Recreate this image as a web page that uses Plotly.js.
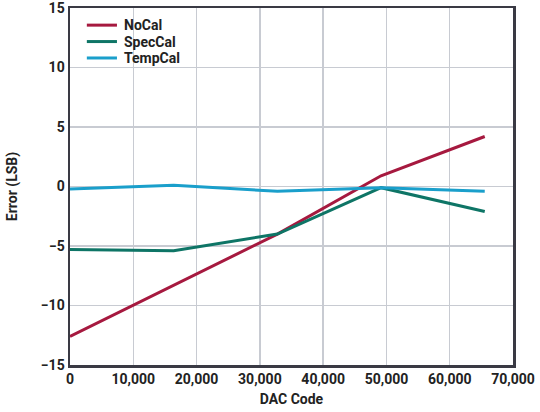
<!DOCTYPE html>
<html>
<head>
<meta charset="utf-8">
<script src="https://cdn.plot.ly/plotly-3.0.1.min.js"></script>
<style>
  body { margin: 0; background: #fff; }
  #plot { width: 540px; height: 412px; }
</style>
</head>
<body>
<div id="plot"></div>
<script>
var dacCodes = [0, 16384, 32768, 49152, 65535];
var noCal = [-12.6, -8.3, -4.0, 0.9, 4.2];
var specCal = [-5.3, -5.4, -4.0, -0.1, -2.1];
var tempCal = [-0.2, 0.1, -0.4, -0.1, -0.4];
var seriesNames = ['NoCal', 'SpecCal', 'TempCal'];
var seriesColors = ['#a6193f', '#0e7566', '#1a9fcb'];

var plotDiv = document.getElementById('plot');

var seriesData = [noCal, specCal, tempCal];
var traces = seriesData.map(function(y, i) {
   return {
      name: seriesNames[i],
      x: dacCodes,
      y: y,
      mode: 'lines',
      line: {width: 3, color: seriesColors[i]}
   };
});

// legend drawn by hand so the rows sit as tight as in the original
var legendShapes = [];
var legendLabels = [];
seriesNames.forEach(function(name, i) {
   var yy = 0.952 - i * 0.046;
   legendShapes.push({
      type: 'line', xref: 'paper', yref: 'paper',
      x0: 0.038, x1: 0.106, y0: yy, y1: yy,
      line: {color: seriesColors[i], width: 3}
   });
   legendLabels.push({
      text: name, xref: 'paper', yref: 'paper',
      x: 0.12, y: yy, xanchor: 'left', yanchor: 'middle',
      showarrow: false, borderpad: 0,
      font: {family: 'Roboto', size: 14, color: '#222', weight: 700}
   });
});

var tickFont = {family: 'Roboto', size: 14, color: '#222', weight: 700};

var layout = {
   width: 540,
   height: 412,
   margin: {l: 70, r: 27, t: 8, b: 47},
   paper_bgcolor: '#fff',
   plot_bgcolor: '#fff',
   showlegend: false,
   shapes: legendShapes,
   annotations: legendLabels,
   xaxis: {
      range: [0, 70000],
      tickvals: [0, 10000, 20000, 30000, 40000, 50000, 60000, 70000],
      tickformat: ',d',
      tickfont: tickFont,
      ticklabeloverflow: 'allow',
      showgrid: true,
      gridcolor: '#c8cbd2',
      gridwidth: 1.5,
      zeroline: false,
      showline: true,
      linecolor: '#3a3a44',
      linewidth: 2.5,
      mirror: true,
      ticks: '',
      title: {text: 'DAC Code', font: {family: 'Roboto', size: 14, color: '#222', weight: 700}, standoff: 8}
   },
   yaxis: {
      range: [-15, 15],
      tickvals: [-15, -10, -5, 0, 5, 10, 15],
      tickfont: tickFont,
      ticklabeloverflow: 'allow',
      showgrid: true,
      gridcolor: '#c8cbd2',
      gridwidth: 1.5,
      zeroline: false,
      showline: true,
      linecolor: '#3a3a44',
      linewidth: 2.5,
      mirror: true,
      ticks: '',
      title: {text: 'Error (LSB)', font: {family: 'Roboto', size: 14, color: '#222', weight: 700}, standoff: 20}
   }
};

Plotly.newPlot(plotDiv, traces, layout, {displayModeBar: false, staticPlot: true});
</script>
</body>
</html>
